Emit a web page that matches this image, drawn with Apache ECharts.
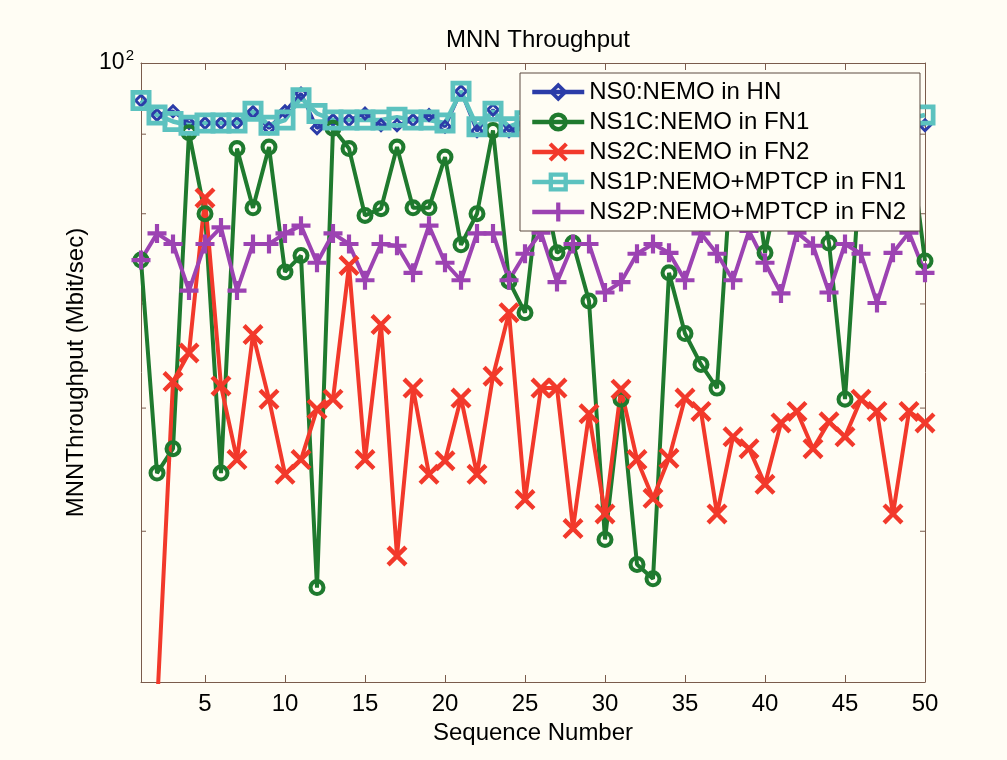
<!DOCTYPE html>
<html>
<head>
<meta charset="utf-8">
<script src="https://cdn.jsdelivr.net/npm/echarts@6/dist/echarts.min.js"></script>
<style>
html,body{margin:0;padding:0;background:#fffdf4;}
#chart{width:1007px;height:760px;}
</style>
</head>
<body>
<div id="chart"></div>
<script>
var categories = ['1','2','3','4','5','6','7','8','9','10','11','12','13','14','15','16','17','18','19','20','21','22','23','24','25','26','27','28','29','30','31','32','33','34','35','36','37','38','39','40','41','42','43','44','45','46','47','48','49','50'];
var xTickLabels = ['5','10','15','20','25','30','35','40','45','50'];
var yMinorTicks = [50, 60, 70, 80, 90];
var yMajorTick = 100;
var seriesNames = ['NS0:NEMO in HN','NS1C:NEMO in FN1','NS2C:NEMO in FN2','NS1P:NEMO+MPTCP in FN1','NS2P:NEMO+MPTCP in FN2'];

var ns0 = [94.6, 92.6, 93.1, 91.5, 91.5, 91.5, 91.5, 93.0, 90.8, 93.1, 95.6, 90.8, 91.9, 91.9, 92.8, 91.2, 91.2, 91.9, 92.6, 91.0, 95.9, 90.4, 93.3, 90.4, 91.5, 92.8, 91.0, 92.0, 93.0, 91.3, 92.5, 91.0, 92.2, 93.1, 91.6, 92.0, 90.8, 92.7, 91.4, 92.3, 93.0, 91.1, 92.0, 91.7, 92.9, 91.2, 92.4, 91.8, 92.0, 91.2];
var ns1c = [74.7, 54.5, 56.5, 90.2, 80.0, 54.5, 88.1, 80.7, 88.3, 73.4, 75.2, 46.0, 90.8, 88.1, 79.8, 80.6, 88.3, 80.7, 80.7, 87.0, 76.4, 80.0, 90.5, 72.4, 69.1, 85.0, 75.5, 76.6, 70.3, 49.4, 60.8, 47.6, 46.6, 73.3, 67.0, 64.0, 61.8, 89.0, 90.0, 75.5, 85.0, 89.0, 88.0, 76.6, 60.8, 87.0, 89.2, 87.8, 90.0, 74.6];
var ns2c = [20, 38.5, 62.4, 65.1, 81.9, 62.0, 55.6, 66.9, 60.8, 54.4, 55.6, 59.9, 60.8, 74.1, 55.6, 67.9, 48.2, 61.8, 54.4, 55.5, 60.9, 54.4, 62.9, 69.1, 52.4, 61.8, 61.8, 50.2, 59.5, 51.3, 61.7, 55.6, 52.5, 55.7, 60.9, 59.7, 51.3, 57.5, 56.5, 53.6, 58.7, 59.7, 56.5, 58.8, 57.5, 60.8, 59.7, 51.3, 59.7, 58.7];
var ns1p = [94.6, 92.6, 91.7, 91.2, 91.5, 91.5, 91.5, 93.1, 91.2, 91.9, 95.0, 92.8, 91.9, 91.9, 91.9, 91.9, 92.3, 91.9, 91.9, 91.5, 95.9, 91.0, 93.1, 91.0, 91.8, 92.0, 91.5, 92.2, 91.9, 91.6, 92.1, 91.7, 92.0, 91.4, 91.9, 92.3, 91.6, 91.8, 92.0, 91.5, 92.1, 91.9, 91.6, 92.2, 91.8, 91.7, 92.0, 91.9, 92.1, 92.6];
var ns2p = [74.7, 77.7, 76.5, 71.4, 76.5, 78.4, 71.4, 76.5, 76.5, 77.7, 78.6, 74.4, 77.7, 76.5, 72.5, 76.5, 76.3, 73.3, 78.6, 74.4, 72.5, 77.7, 77.7, 72.5, 75.4, 77.8, 72.3, 76.5, 76.5, 71.2, 72.3, 75.4, 76.5, 75.5, 72.5, 77.7, 75.4, 72.5, 78.0, 74.4, 71.1, 77.8, 76.3, 71.2, 76.5, 75.4, 70.1, 75.5, 77.8, 73.3];

var FONT = '"Liberation Sans", Arial, sans-serif';
var AXIS = '#7a5c4c';
var BG = '#fffdf4';
var colors = ['#2b3ca8', '#1f7a2e', '#f2392b', '#5cc2bf', '#9c43b2'];

var symDiamond = 'path://M10,0 L20,10 L10,20 L0,10 Z M10,5.5 L5.5,10 L10,14.5 L14.5,10 Z';
var symCircle = 'path://M10,0 A10,10 0 1,1 10,20 A10,10 0 1,1 10,0 Z M10,4.8 A5.2,5.2 0 1,0 10,15.2 A5.2,5.2 0 1,0 10,4.8 Z';
var symX = 'path://M0,3 L3,0 L10,7 L17,0 L20,3 L13,10 L20,17 L17,20 L10,13 L3,20 L0,17 L7,10 Z';
var symSquare = 'path://M0,0 L20,0 L20,20 L0,20 Z M4.5,4.5 L4.5,15.5 L15.5,15.5 L15.5,4.5 Z';
var symPlus = 'path://M7.8,0 L12.2,0 L12.2,7.8 L20,7.8 L20,12.2 L12.2,12.2 L12.2,20 L7.8,20 L7.8,12.2 L0,12.2 L0,7.8 L7.8,7.8 Z';

function mk(name, data, color, sym, size, width) {
  return {
    name: name, type: 'line', data: data,
    symbol: sym, symbolSize: size, showAllSymbol: true,
    lineStyle: {color: color, width: width},
    itemStyle: {color: color, borderWidth: 0},
    emphasis: {disabled: true},
    clip: true
  };
}

var chart = echarts.init(document.getElementById('chart'), null, {renderer: 'canvas'});
var option = {
  animation: false,
  backgroundColor: BG,
  textStyle: {fontFamily: FONT},
  title: {
    text: 'MNN Throughput', left: 533, top: 23, textAlign: 'center',
    textStyle: {fontFamily: FONT, fontSize: 24, fontWeight: 'normal', color: '#000'}
  },
  grid: {left: 141, right: 82, top: 63, bottom: 78, containLabel: false},
  legend: {
    data: seriesNames, orient: 'vertical', left: 520, top: 73,
    itemWidth: 52, itemHeight: 24, itemGap: 6,
    padding: [7, 14, 7, 10],
    lineStyle: {width: 4.5},
    backgroundColor: BG, borderColor: '#5c4a40', borderWidth: 1,
    textStyle: {fontFamily: FONT, fontSize: 24, color: '#000'},
    selectedMode: false
  },
  xAxis: [{
    type: 'category', data: categories, boundaryGap: false,
    name: 'Sequence Number', nameLocation: 'middle', nameGap: 37,
    nameTextStyle: {fontFamily: FONT, fontSize: 24, color: '#000', verticalAlign: 'top'},
    axisLine: {show: true, lineStyle: {color: AXIS, width: 1}},
    axisTick: {show: true, inside: true, length: 7, lineStyle: {color: AXIS},
      interval: function (i) { return xTickLabels.indexOf(categories[i]) >= 0; }},
    axisLabel: {show: true, margin: 10, fontFamily: FONT, fontSize: 24, color: '#000',
      interval: function (i) { return xTickLabels.indexOf(categories[i]) >= 0; }},
    splitLine: {show: false}
  }, {
    type: 'category', data: categories, boundaryGap: false, position: 'top',
    axisLine: {show: true, lineStyle: {color: AXIS, width: 1}},
    axisTick: {show: true, inside: true, length: 7, lineStyle: {color: AXIS},
      interval: function (i) { return xTickLabels.indexOf(categories[i]) >= 0; }},
    axisLabel: {show: false}, splitLine: {show: false}
  }],
  yAxis: [{
    type: 'log', logBase: 10, min: 40, max: 100,
    name: 'MNNThroughput (Mbit/sec)', nameLocation: 'middle', nameGap: 50,
    nameTextStyle: {fontFamily: FONT, fontSize: 24, color: '#000'},
    axisLine: {show: true, onZero: false, lineStyle: {color: AXIS, width: 1}},
    axisTick: {show: false},
    axisLabel: {
      show: true, margin: 7, showMinLabel: true, showMaxLabel: true,
      formatter: function (v) { return Math.abs(v - yMajorTick) < 1e-6 ? '{a|10}{b|2}' : ''; },
      rich: {
        a: {fontFamily: FONT, fontSize: 23, color: '#000'},
        b: {fontFamily: FONT, fontSize: 15, color: '#000', verticalAlign: 'top', padding: [0, 0, 14, 1]}
      }
    },
    splitLine: {show: false}
  }, {
    type: 'log', logBase: 10, min: 40, max: 100, position: 'right',
    axisLine: {show: true, onZero: false, lineStyle: {color: AXIS, width: 1}},
    axisTick: {show: false}, axisLabel: {show: false}, splitLine: {show: false}
  }],
  series: [
    {
      type: 'custom', name: 'yticks', silent: true, z: 1,
      data: yMinorTicks.map(function (v) { return [0, v]; }),
      encode: {x: 0, y: 1},
      renderItem: function (params, api) {
        var y = api.coord([0, api.value(1)])[1];
        var cs = params.coordSys;
        return {type: 'group', children: [
          {type: 'line', shape: {x1: cs.x, y1: y, x2: cs.x + 5, y2: y}, style: {stroke: AXIS, lineWidth: 1}},
          {type: 'line', shape: {x1: cs.x + cs.width, y1: y, x2: cs.x + cs.width - 5, y2: y}, style: {stroke: AXIS, lineWidth: 1}}
        ]};
      }
    },
    mk(seriesNames[0], ns0, colors[0], symDiamond, 15, 3.5),
    mk(seriesNames[1], ns1c, colors[1], symCircle, 17, 4),
    mk(seriesNames[2], ns2c, colors[2], symX, 21, 4),
    mk(seriesNames[3], ns1p, colors[3], symSquare, 21, 4.5),
    mk(seriesNames[4], ns2p, colors[4], symPlus, 19, 4)
  ]
};
chart.setOption(option);
</script>
</body>
</html>
